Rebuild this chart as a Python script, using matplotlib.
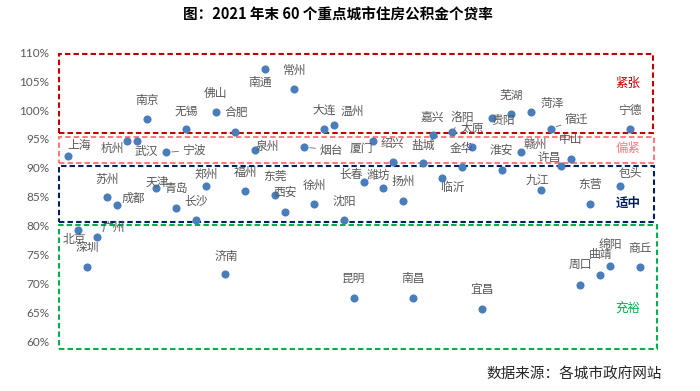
import matplotlib
matplotlib.use("Agg")
import matplotlib.pyplot as plt
from matplotlib.patches import Rectangle

plt.rcParams['font.family'] = ['Noto Sans CJK SC', 'DejaVu Sans']

# ---------------- data ----------------
cities = ['上海', '北京', '深圳', '广州', '苏州', '成都', '杭州', '武汉', '南京', '天津',
          '宁波', '青岛', '无锡', '长沙', '郑州', '佛山', '济南', '合肥', '福州', '泉州',
          '南通', '东莞', '西安', '常州', '烟台', '徐州', '大连', '温州', '沈阳', '昆明',
          '长春', '厦门', '潍坊', '绍兴', '扬州', '南昌', '盐城', '嘉兴', '临沂', '洛阳',
          '金华', '太原', '宜昌', '贵阳', '淮安', '芜湖', '赣州', '菏泽', '九江', '宿迁',
          '许昌', '中山', '周口', '东营', '曲靖', '绵阳', '包头', '宁德', '商丘']
loan_ratio = [92.1, 79.3, 72.9, 78.1, 84.9, 83.6, 94.6, 94.6, 98.4, 86.5,
              92.7, 83.1, 96.7, 80.9, 86.8, 99.6, 71.6, 96.2, 86.0, 93.1,
              107.1, 85.3, 82.4, 103.6, 93.6, 83.7, 96.7, 97.4, 80.9, 67.4,
              87.6, 94.6, 86.5, 91.1, 84.3, 67.4, 90.8, 95.7, 88.2, 96.2,
              90.1, 93.6, 65.6, 98.7, 89.7, 99.4, 92.7, 99.7, 86.2, 96.8,
              90.4, 91.6, 69.8, 83.8, 71.5, 73.1, 86.9, 96.7, 72.8]
y_ticks = [60, 65, 70, 75, 80, 85, 90, 95, 100, 105, 110]
y_tick_labels = [f'{t}%' for t in y_ticks]
zone_names = ['紧张', '偏紧', '适中', '充裕']

title = '图：2021 年末 60 个重点城市住房公积金个贷率'
source = '数据来源：各城市政府网站'

# label offsets (pixels, x right, y down) relative to each point
label_off = {
    '上海': (11, -10), '北京': (-3, 10), '深圳': (0, -19), '广州': (16, -9),
    '苏州': (0, -18), '成都': (16, -7), '杭州': (-14, 7), '武汉': (10, 10),
    '南京': (0, -19), '天津': (1, -6), '宁波': (28, -2), '青岛': (0, -19),
    '无锡': (0, -18), '长沙': (0, -19), '郑州': (1, -12), '佛山': (0, -19),
    '济南': (1, -18), '合肥': (1, -19), '福州': (0, -19), '泉州': (12, -4),
    '南通': (-5, 13), '东莞': (0, -19), '西安': (0, -19), '常州': (0, -19),
    '烟台': (27, 3), '徐州': (0, -19), '大连': (0, -19), '温州': (18, -14),
    '沈阳': (0, -19), '昆明': (0, -20), '长春': (-12, -7), '厦门': (-12, 7),
    '潍坊': (-5, -13), '绍兴': (-1, -18), '扬州': (0, -19), '南昌': (0, -20),
    '盐城': (0, -18), '嘉兴': (0, -18), '临沂': (10, 9), '洛阳': (10, -15),
    '金华': (-1, -19), '太原': (0, -19), '宜昌': (0, -19), '贵阳': (11, 3),
    '淮安': (0, -19), '芜湖': (0, -18), '赣州': (14, -8), '菏泽': (21, -8),
    '九江': (-4, -9), '宿迁': (26, -9), '许昌': (-11, -8), '中山': (0, -19),
    '周口': (0, -20), '东营': (0, -19), '曲靖': (0, -20), '绵阳': (0, -20),
    '包头': (11, -12), '宁德': (0, -19), '商丘': (0, -19),
}
leader = {'宁波', '烟台', '洛阳', '宿迁'}

# ---------------- figure ----------------
fig = plt.figure(figsize=(7.0, 3.91), dpi=100)
ax = fig.add_axes([56 / 700, 1 - 341.2 / 391, 602 / 700, (341.2 - 52.3) / 391])

xs = list(range(len(cities)))
ax.scatter(xs, loan_ratio, s=34, color='#4a7ebb', zorder=5, linewidths=0)

for i, (c, v) in enumerate(zip(cities, loan_ratio)):
    dx, dy = label_off.get(c, (0, -19))
    kw = {}
    if c in leader:
        kw['arrowprops'] = dict(arrowstyle='-', color='#7f7f7f', lw=0.7,
                                shrinkA=1, shrinkB=4)
    ax.annotate(c, (i, v), xytext=(dx, -dy), textcoords='offset pixels',
                ha='center', va='center', fontsize=8.5, color='#595959',
                zorder=6, **kw)

ax.set_xlim((56 - 67.7) / 9.86, (658 - 67.7) / 9.86)
ax.set_ylim(60, 110)
ax.set_yticks(y_ticks)
ax.set_yticklabels(y_tick_labels, fontsize=8.5, color='#595959', family='Lato')
ax.set_xticks([])
ax.tick_params(axis='y', length=0, pad=5)
for sp in ax.spines.values():
    sp.set_visible(False)

# zone boxes (left, right, bottom, top in data coords) and label y
zones = [
    (-0.93, 59.40, 96.07, 109.7, '#C00000', 104.6),
    (-0.93, 59.50, 90.76, 95.37, '#FF7C80', 93.4),
    (-0.93, 59.50, 80.64, 90.35, '#002060', 83.9),
    (-0.93, 59.73, 58.7, 80.07, '#00B050', 65.6),
]
for (x0, x1, y0, y1, col, ty), name in zip(zones, zone_names):
    r = Rectangle((x0, y0), x1 - x0, y1 - y0, fill=False, edgecolor=col,
                  lw=1.5, linestyle=(0, (2.6, 1.5)), clip_on=False, zorder=3)
    ax.add_patch(r)
    ax.text(56.8, ty, name, ha='center', va='center', fontsize=9, color=col,
            fontweight='bold' if name == '适中' else 'normal', zorder=6)

fig.text(338 / 700, 1 - 15 / 391, title, ha='center', va='center',
         fontsize=10.5, fontweight='bold', color='black')
fig.text(574 / 700, 1 - 374 / 391, source, ha='center', va='center',
         fontsize=10.5, color='#262626')

fig.savefig('out.png', dpi=100)
